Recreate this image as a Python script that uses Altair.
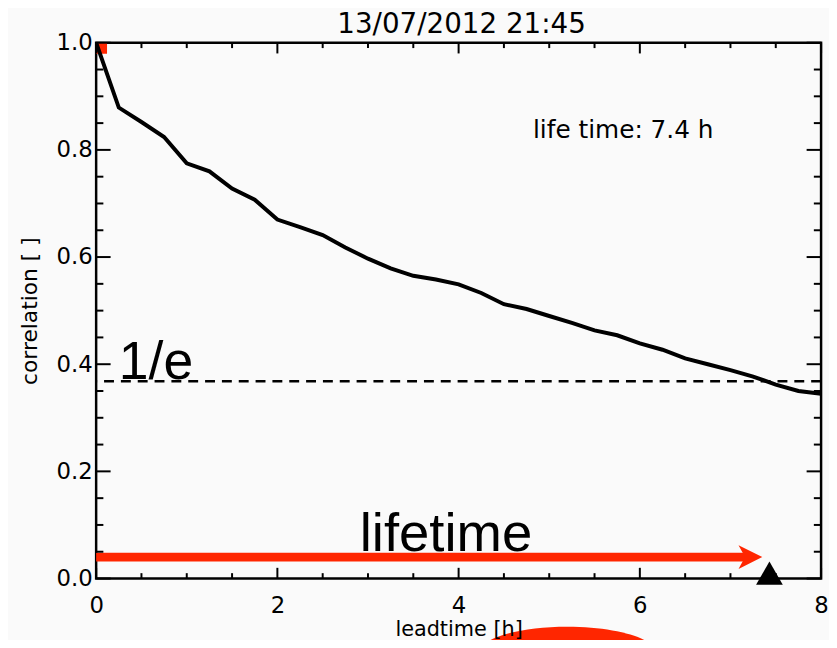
import altair as alt
import pandas as pd

# ---- data ----
leadtime = [0.0, 0.25, 0.5, 0.75, 1.0, 1.25, 1.5, 1.75, 2.0, 2.25, 2.5, 2.75,
            3.0, 3.25, 3.5, 3.75, 4.0, 4.25, 4.5, 4.75, 5.0, 5.25, 5.5, 5.75,
            6.0, 6.25, 6.5, 6.75, 7.0, 7.25, 7.5, 7.75, 8.0]
correlation = [1.000, 0.879, 0.852, 0.824, 0.775, 0.760, 0.728, 0.707, 0.670,
               0.656, 0.641, 0.618, 0.597, 0.579, 0.565, 0.558, 0.549, 0.533,
               0.512, 0.503, 0.490, 0.477, 0.463, 0.454, 0.439, 0.427, 0.411,
               0.400, 0.389, 0.377, 0.362, 0.350, 0.345]

x_major = [0, 2, 4, 6, 8]
x_minor = [0.5, 1, 1.5, 2.5, 3, 3.5, 4.5, 5, 5.5, 6.5, 7, 7.5]
y_major = [0.0, 0.2, 0.4, 0.6, 0.8, 1.0]
y_minor = [0.05, 0.1, 0.15, 0.25, 0.3, 0.35, 0.45, 0.5, 0.55, 0.65, 0.7, 0.75,
           0.85, 0.9, 0.95]

inv_e = [0.368]
lifetime_marker = {"x": [7.43], "y": [0.01]}
arrow = {"x0": [0.0], "x1": [7.22], "y": [0.04]}
start_marker = {"x": [0.0], "y": [1.0]}
blob = {"x": [5.2], "y": [-0.14]}

labels = pd.DataFrame({
    "x": [0.25, 3.86, 4.82],
    "y": [0.372, 0.052, 0.823],
    "text": ["1/e", "lifetime", "life time: 7.4 h"],
})

title_text = ["13/07/2012 21:45"]
x_title = "leadtime [h]"
y_title = "correlation [ ]"

# ---- layout / style ----
W, H = 732, 541
FONT = "DejaVu Sans"
BIG_FONT = "Liberation Sans"
RED = "#ff2600"
XT_MAJ, XT_MIN = 10.8, 5.4
YT_MAJ, YT_MIN = 14.6, 7.3

x_scale = alt.Scale(domain=[0, 8], nice=False, zero=False)
y_scale = alt.Scale(domain=[0, 1], nice=False, zero=False)

x_axis = alt.Axis(values=x_major, format="d", title=x_title, grid=False,
                  ticks=False, tickSize=0, domain=False, labelFlush=False,
                  labelOverlap=False, labelFont=FONT, labelFontSize=23,
                  labelColor="black", labelPadding=16, titleFont=FONT,
                  titleFontSize=21, titleFontWeight="normal",
                  titleColor="black", titlePadding=2, zindex=2)
y_axis = alt.Axis(values=y_major, format=".1f", title=y_title, grid=False,
                  ticks=False, tickSize=0, domain=False, labelFlush=False,
                  labelOverlap=False, labelFont=FONT, labelFontSize=23,
                  labelColor="black", labelPadding=4, titleFont=FONT,
                  titleFontSize=22, titleFontWeight="normal",
                  titleColor="black", titlePadding=15, zindex=2)


def X(field):
    return alt.X(field, type="quantitative", scale=x_scale, axis=x_axis)


def Y(field):
    return alt.Y(field, type="quantitative", scale=y_scale, axis=y_axis)


curve_df = pd.DataFrame({"t": leadtime, "c": correlation})

start_sq = alt.Chart(pd.DataFrame(start_marker)).mark_square(
    color=RED, size=484, opacity=1, clip=True
).encode(x=X("x"), y=Y("y"))

curve = alt.Chart(curve_df).mark_line(
    color="black", strokeWidth=4, clip=True
).encode(x=X("t"), y=Y("c"))

dash = alt.Chart(pd.DataFrame({"v": inv_e})).mark_rule(
    color="black", strokeWidth=2.5, strokeDash=[10, 7]
).encode(y=Y("v"))

shaft = alt.Chart(pd.DataFrame(arrow)).mark_rule(
    color=RED, strokeWidth=9
).encode(x=X("x0"), x2="x1", y=Y("y"))

head_path = "M1,0 L-1,-1 L-0.45,0 L-1,1 Z"
head = alt.Chart(pd.DataFrame({"x": arrow["x1"], "y": arrow["y"]})).mark_point(
    shape=head_path, filled=True, size=576, color=RED, opacity=1
).encode(x=X("x"), y=Y("y"))

tri = alt.Chart(pd.DataFrame(lifetime_marker)).mark_point(
    shape="triangle-up", filled=True, size=729, color="black", opacity=1,
    clip=False
).encode(x=X("x"), y=Y("y"))

k = 0.3
ellipse_path = (f"M-1,0 C-1,{-k*0.5523:.4f} -0.5523,{-k} 0,{-k} "
                f"C0.5523,{-k} 1,{-k*0.5523:.4f} 1,0 "
                f"C1,{k*0.5523:.4f} 0.5523,{k} 0,{k} "
                f"C-0.5523,{k} -1,{k*0.5523:.4f} -1,0 Z")
red_blob = alt.Chart(pd.DataFrame(blob)).mark_point(
    shape=ellipse_path, filled=True, size=32400, color=RED, opacity=1,
    clip=False
).encode(x=X("x"), y=Y("y"))

txt_1e = alt.Chart(labels.iloc[[0]]).mark_text(
    font=BIG_FONT, fontSize=54, align="left", baseline="alphabetic",
    color="black"
).encode(x=X("x"), y=Y("y"), text="text:N")
txt_life = alt.Chart(labels.iloc[[1]]).mark_text(
    font=BIG_FONT, fontSize=55, align="center", baseline="alphabetic",
    color="black"
).encode(x=X("x"), y=Y("y"), text="text:N")
txt_lt = alt.Chart(labels.iloc[[2]]).mark_text(
    font=FONT, fontSize=25, align="left", baseline="alphabetic", color="black"
).encode(x=X("x"), y=Y("y"), text="text:N")

title_mark = alt.Chart(pd.DataFrame({"t": title_text})).mark_text(
    font=FONT, fontSize=28, align="center", baseline="alphabetic",
    color="black", clip=False
).encode(x=alt.value(W / 2 + 3), y=alt.value(-10), text="t:N")

tick_layers = []
for vals, length in [(y_major, YT_MAJ), (y_minor, YT_MIN)]:
    d = pd.DataFrame({"v": vals})
    tick_layers.append(alt.Chart(d).mark_rule(color="black", strokeWidth=2).encode(
        y=Y("v"), x=alt.value(0), x2=alt.value(length)))
    tick_layers.append(alt.Chart(d).mark_rule(color="black", strokeWidth=2).encode(
        y=Y("v"), x=alt.value(W - length), x2=alt.value(W)))
for vals, length in [(x_major, XT_MAJ), (x_minor, XT_MIN)]:
    d = pd.DataFrame({"v": vals})
    tick_layers.append(alt.Chart(d).mark_rule(color="black", strokeWidth=2).encode(
        x=X("v"), y=alt.value(H), y2=alt.value(H - length)))
    tick_layers.append(alt.Chart(d).mark_rule(color="black", strokeWidth=2).encode(
        x=X("v"), y=alt.value(0), y2=alt.value(length)))

chart = alt.layer(
    red_blob, start_sq, curve, dash, shaft, head, *tick_layers, tri,
    txt_1e, txt_life, txt_lt, title_mark
).properties(
    width=W, height=H,
    autosize=alt.AutoSizeParams(type="none"),
    padding={"left": 89, "top": 32, "right": 8, "bottom": 59},
    background="#fafafa",
).configure_view(
    stroke="black", strokeWidth=2.5, fill="#fafafa"
)

chart.save("out.html", embed_options={"renderer": "svg", "actions": False})
